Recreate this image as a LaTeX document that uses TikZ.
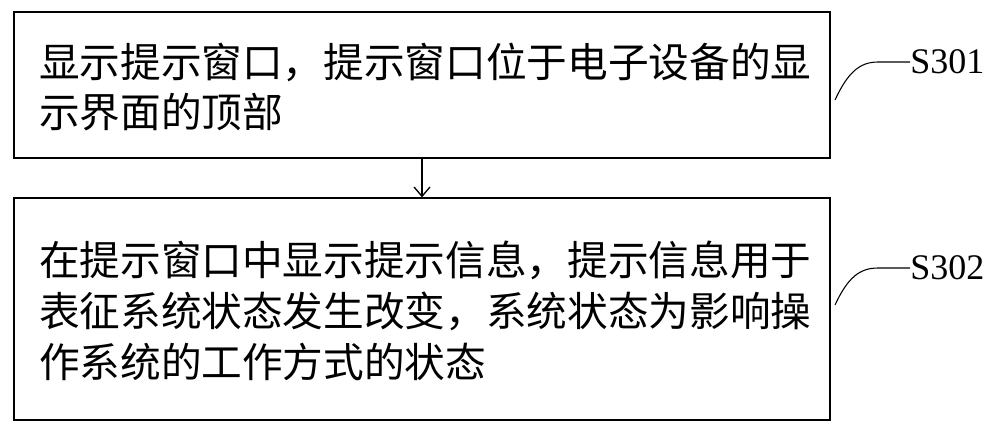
\documentclass[tikz,border=0pt]{standalone}
\usepackage{fontspec}
\setmainfont{Liberation Serif}
\newfontfamily\cjk{Noto Sans CJK SC}
\usetikzlibrary{arrows.meta}
\begin{document}
\begin{tikzpicture}[x=0.75pt,y=-0.75pt,
  boxa/.style={draw,line width=1pt,minimum width=816*0.75pt,inner sep=0pt},
  txt/.style={text width=790*0.75pt,align=left,font=\cjk\fontsize{30.5}{38}\selectfont},
  lab/.style={font=\fontsize{27}{30}\selectfont,anchor=west,inner sep=0pt}]
\useasboundingbox (0,0) rectangle (1000,433);
\node[boxa,minimum height=146*0.75pt] (b1) at (422,85) {};
\node[txt] (t1) at (434,87) {显示提示窗口，提示窗口位于电子设备的显\\示界面的顶部};
\node[boxa,minimum height=222*0.75pt] (b2) at (422,309) {};
\node[txt] (t2) at (434,311) {在提示窗口中显示提示信息，提示信息用于\\表征系统状态发生改变，系统状态为影响操\\作系统的工作方式的状态};
\draw[line width=1pt,-{Straight Barb[length=7pt,width=12pt]}] (b1.south) -- (b2.north);
\node[lab] (s1) at (910,62) {S301};
\node[lab] (s2) at (910,268) {S302};
\coordinate (c1) at (835,100);
\coordinate (c2) at (835,305);
\draw[line width=0.8pt] (c1) .. controls (848,72) and (860,62) .. (878,62) -- (s1.west);
\draw[line width=0.8pt] (c2) .. controls (848,277) and (860,268) .. (878,268) -- (s2.west);
\end{tikzpicture}
\end{document}
